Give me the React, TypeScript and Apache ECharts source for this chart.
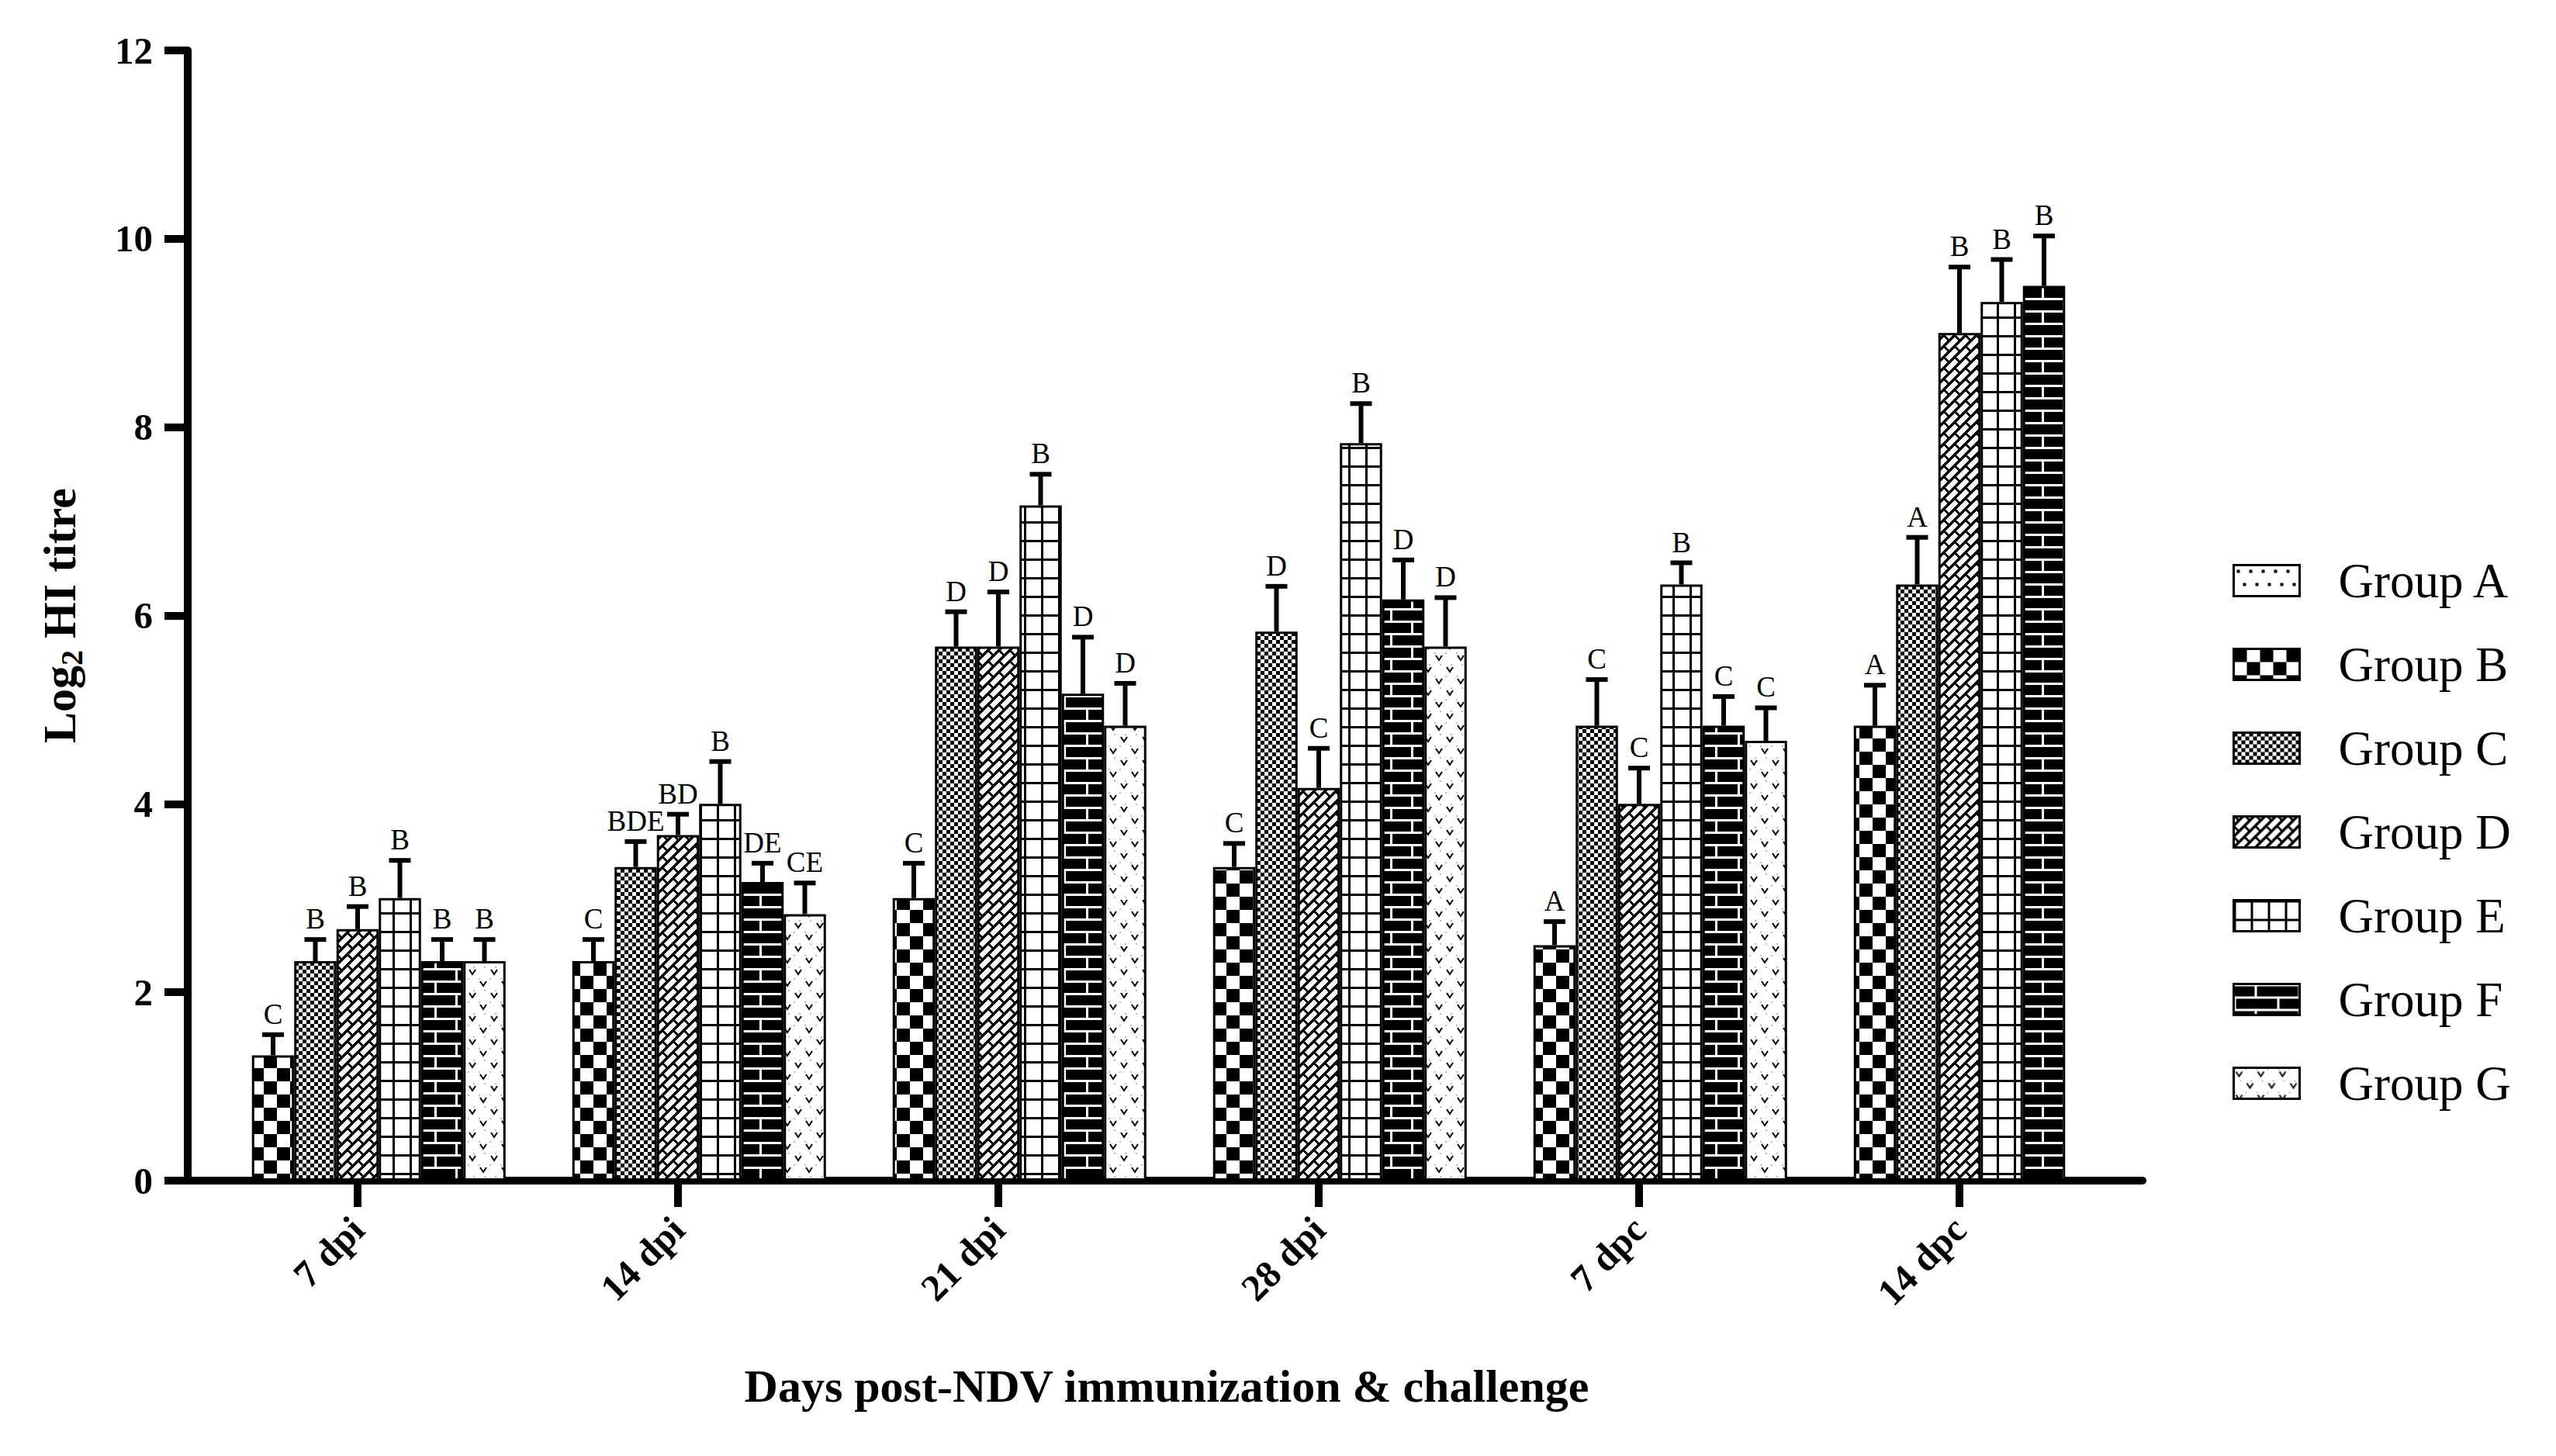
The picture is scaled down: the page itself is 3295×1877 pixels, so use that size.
import React, { useEffect, useRef } from 'react';
import * as echarts from 'echarts';

const categories = ['7 dpi', '14 dpi', '21 dpi', '28 dpi', '7 dpc', '14 dpc'];
const groupNames = ['Group A', 'Group B', 'Group C', 'Group D', 'Group E', 'Group F', 'Group G'];

const groupA = [0, 0, 0, 0, 0, 0];
const groupB = [1.33, 2.33, 3.0, 3.33, 2.5, 4.83];
const groupC = [2.33, 3.33, 5.67, 5.83, 4.83, 6.33];
const groupD = [2.67, 3.67, 5.67, 4.17, 4.0, 9.0];
const groupE = [3.0, 4.0, 7.17, 7.83, 6.33, 9.33];
const groupF = [2.33, 3.17, 5.17, 6.17, 4.83, 9.5];
const groupG = [2.33, 2.83, 4.83, 5.67, 4.67, null];

const errA = [null, null, null, null, null, null];
const errB = [0.22, 0.23, 0.37, 0.25, 0.25, 0.43];
const errC = [0.23, 0.27, 0.37, 0.48, 0.49, 0.5];
const errD = [0.24, 0.22, 0.58, 0.42, 0.38, 0.7];
const errE = [0.4, 0.45, 0.33, 0.42, 0.23, 0.45];
const errF = [0.23, 0.2, 0.6, 0.42, 0.31, 0.53];
const errG = [0.23, 0.33, 0.45, 0.52, 0.35, null];

const lettersA = ['', '', '', '', '', ''];
const lettersB = ['C', 'C', 'C', 'C', 'A', 'A'];
const lettersC = ['B', 'BDE', 'D', 'D', 'C', 'A'];
const lettersD = ['B', 'BD', 'D', 'C', 'C', 'B'];
const lettersE = ['B', 'B', 'B', 'B', 'B', 'B'];
const lettersF = ['B', 'DE', 'D', 'D', 'C', 'B'];
const lettersG = ['B', 'CE', 'D', 'D', 'C', ''];

const yTicks = { min: 0, max: 12, interval: 2 };

const FONT = '"Liberation Serif", "Times New Roman", serif';
const BAR_W = 54.5;

function makeTile(w: number, h: number, draw: (ctx: CanvasRenderingContext2D) => void) {
  const c = document.createElement('canvas');
  c.width = w;
  c.height = h;
  const ctx = c.getContext('2d') as CanvasRenderingContext2D;
  ctx.fillStyle = '#fff';
  ctx.fillRect(0, 0, w, h);
  draw(ctx);
  return { image: c, repeat: 'repeat', imageWidth: w, imageHeight: h } as any;
}

function buildPatterns() {
  const pA = makeTile(32, 34, (ctx) => {
    ctx.fillStyle = '#000';
    [[4, 6], [20, 6], [12, 23], [28, 23]].forEach(([x, y]) => ctx.fillRect(x, y, 4, 4));
  });
  const pB = makeTile(34, 34, (ctx) => {
    ctx.fillStyle = '#000';
    ctx.fillRect(0, 0, 17, 17);
    ctx.fillRect(17, 17, 17, 17);
  });
  const pC = makeTile(10, 10, (ctx) => {
    ctx.fillStyle = '#000';
    ctx.fillRect(0, 0, 5, 5);
    ctx.fillRect(5, 5, 5, 5);
  });
  const pD = makeTile(28, 28, (ctx) => {
    const img = ctx.createImageData(28, 28);
    for (let y = 0; y < 28; y++) {
      for (let x = 0; x < 28; x++) {
        const sum = x + y;
        const s = sum % 14;
        let white = false;
        if (s < 9) {
          const k = Math.floor((sum % 28) / 14);
          const t = (x - y + 280 + 14 * k) % 28;
          white = t >= 4;
        }
        const i = (y * 28 + x) * 4;
        const v = white ? 255 : 0;
        img.data[i] = v;
        img.data[i + 1] = v;
        img.data[i + 2] = v;
        img.data[i + 3] = 255;
      }
    }
    ctx.putImageData(img, 0, 0);
  });
  const pE = makeTile(22, 24, (ctx) => {
    ctx.fillStyle = '#000';
    ctx.fillRect(0, 0, 3, 24);
    ctx.fillRect(0, 0, 22, 3);
  });
  const pF = makeTile(56, 32, (ctx) => {
    ctx.fillStyle = '#000';
    ctx.fillRect(0, 0, 56, 32);
    ctx.fillStyle = '#fff';
    ctx.fillRect(0, 0, 56, 3);
    ctx.fillRect(0, 16, 56, 3);
    ctx.fillRect(27, 3, 3, 13);
    ctx.fillRect(0, 19, 3, 13);
  });
  const pG = makeTile(28, 30, (ctx) => {
    ctx.fillStyle = '#bbb';
    [[1, 1], [15, 1], [8, 16], [22, 16]].forEach(([x, y]) => ctx.fillRect(x, y, 2, 2));
    ctx.strokeStyle = '#000';
    ctx.lineWidth = 2;
    const chev = (cx: number, cy: number) => {
      ctx.beginPath();
      ctx.moveTo(cx - 4, cy - 3);
      ctx.lineTo(cx, cy + 3);
      ctx.lineTo(cx + 4, cy - 3);
      ctx.stroke();
    };
    chev(7, 8);
    chev(21, 23);
  });
  return [pA, pB, pC, pD, pE, pF, pG];
}

export default function App() {
  const ref = useRef<HTMLDivElement>(null);
  useEffect(() => {
    if (!ref.current) return;
    const chart = echarts.init(ref.current, null, { renderer: 'svg' });
    const patterns = buildPatterns();
    const values = [groupA, groupB, groupC, groupD, groupE, groupF, groupG];
    const errs = [errA, errB, errC, errD, errE, errF, errG];
    const letters = [lettersA, lettersB, lettersC, lettersD, lettersE, lettersF, lettersG];

    const barSeries = values.map((vals, gi) => ({
      type: 'bar',
      name: groupNames[gi],
      xAxisIndex: 0,
      yAxisIndex: 0,
      data: vals.map((v) => (v == null ? '-' : v)),
      barWidth: BAR_W,
      barGap: '0%',
      z: 2,
      itemStyle: { color: patterns[gi], borderColor: '#000', borderWidth: 3 },
      emphasis: { disabled: true },
    }));

    const errSeries = values.map((vals, gi) => {
      const e = errs[gi];
      const lt = letters[gi];
      const data: any[] = [];
      vals.forEach((v, i) => {
        if (v != null && e[i] != null) data.push([i, v, e[i]]);
      });
      return {
        type: 'custom',
        name: 'err-' + groupNames[gi],
        xAxisIndex: 0,
        yAxisIndex: 0,
        z: 5,
        silent: true,
        data,
        renderItem: (params: any, api: any) => {
          const ci = api.value(0);
          const v = api.value(1);
          const ev = api.value(2);
          const base = api.coord([ci, v]);
          const top = api.coord([ci, v + ev]);
          const x = base[0] + (gi - 3) * BAR_W;
          return {
            type: 'group',
            children: [
              { type: 'line', shape: { x1: x, y1: base[1], x2: x, y2: top[1] }, style: { stroke: '#000', lineWidth: 6 } },
              { type: 'line', shape: { x1: x - 14, y1: top[1], x2: x + 14, y2: top[1] }, style: { stroke: '#000', lineWidth: 6 } },
              {
                type: 'text',
                style: {
                  text: lt[ci] || '',
                  x,
                  y: top[1] - 8,
                  align: 'center',
                  verticalAlign: 'bottom',
                  fontSize: 37,
                  fontFamily: FONT,
                  fill: '#000',
                },
              },
            ],
          };
        },
      };
    });

    chart.setOption({
      animation: false,
      backgroundColor: '#fff',
      grid: [
        { left: 254.5, top: 65, width: 2478, height: 1457 },
        { left: 237, top: 65, width: 2525, height: 1457 },
      ],
      legend: {
        orient: 'vertical',
        left: 2873,
        top: 712,
        itemWidth: 85,
        itemHeight: 40,
        itemGap: 45,
        icon: 'rect',
        selectedMode: false,
        data: groupNames,
        itemStyle: { borderColor: '#000', borderWidth: 3 },
        textStyle: { fontSize: 63, fontFamily: FONT, color: '#000', lineHeight: 63, padding: [0, 0, 0, 45] },
      },
      xAxis: [
        {
          type: 'category',
          gridIndex: 0,
          data: categories,
          axisLine: { show: false },
          axisTick: { show: true, alignWithLabel: true, length: 34, lineStyle: { color: '#000', width: 10 } },
          axisLabel: { rotate: 45, margin: 55, interval: 0, fontSize: 49, fontWeight: 'bold', fontFamily: FONT, color: '#000' },
          name: 'Days post-NDV immunization & challenge',
          nameLocation: 'middle',
          nameGap: 235,
          nameTextStyle: { fontSize: 60, fontWeight: 'bold', fontFamily: FONT, color: '#000', padding: [0, 0, 0, 21] },
          splitLine: { show: false },
        },
        {
          type: 'value',
          gridIndex: 1,
          min: 0,
          max: 1,
          axisLine: { show: true, onZero: false, lineStyle: { color: '#000', width: 10 } },
          axisTick: { show: false },
          axisLabel: { show: false },
          splitLine: { show: false },
        },
      ],
      yAxis: [
        {
          type: 'value',
          gridIndex: 0,
          min: yTicks.min,
          max: yTicks.max,
          interval: yTicks.interval,
          offset: 12.5,
          name: '{n|Log}{s|2}{n| HI titre}',
          nameLocation: 'middle',
          nameGap: 130,
          nameRotate: 90,
          nameTextStyle: {
            color: '#000',
            rich: {
              n: { fontSize: 60, fontWeight: 'bold', fontFamily: FONT, color: '#000', lineHeight: 70 },
              s: { fontSize: 40, fontWeight: 'bold', fontFamily: FONT, color: '#000', lineHeight: 40, verticalAlign: 'bottom' },
            },
          },
          axisLine: { show: true, lineStyle: { color: '#000', width: 10 } },
          axisTick: { show: true, length: 30, lineStyle: { color: '#000', width: 10 } },
          axisLabel: { margin: 45, fontSize: 49, fontWeight: 'bold', fontFamily: FONT, color: '#000' },
          splitLine: { show: false },
        },
        { type: 'value', gridIndex: 1, show: false, min: 0, max: 1 },
      ],
      series: [...barSeries, ...errSeries],
    } as any);
    return () => chart.dispose();
  }, []);
  return <div ref={ref} style={{ position: 'absolute', left: 0, top: 0, width: 3295, height: 1877 }} />;
}
